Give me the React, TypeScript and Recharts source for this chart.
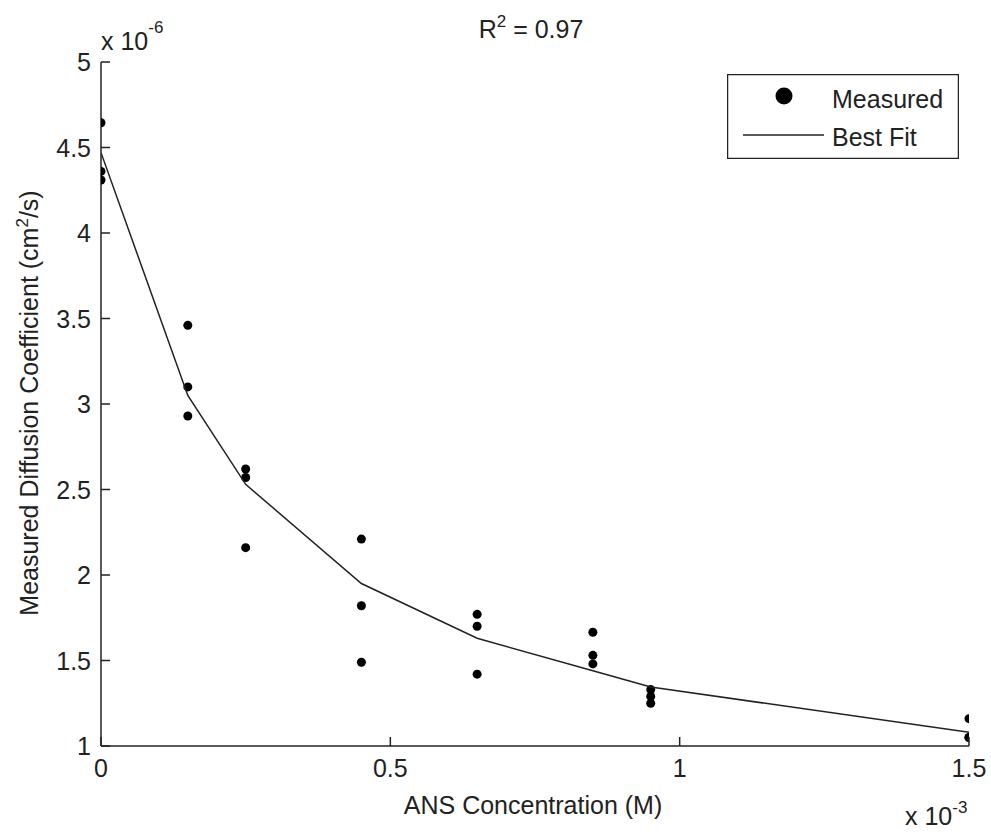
import React from "react"
import { ComposedChart, Scatter, XAxis, YAxis, Legend, Customized } from "recharts"

// ANS concentration (x 10^-3 M)
const concentrations = [0, 0.15, 0.25, 0.45, 0.65, 0.85, 0.95, 1.5]
// measured diffusion coefficient, three repeats (x 10^-6 cm^2/s)
const measuredA = [4.645, 3.46, 2.62, 2.21, 1.77, 1.665, 1.33, 1.16]
const measuredB = [4.36, 3.1, 2.57, 1.82, 1.7, 1.53, 1.29, 1.05]
const measuredC = [4.31, 2.93, 2.16, 1.49, 1.42, 1.48, 1.25, 1.05]
const bestFit = [4.47, 3.05, 2.53, 1.95, 1.63, 1.44, 1.345, 1.08]

const xTicks = [0, 0.5, 1, 1.5]
const yTicks = [1, 1.5, 2, 2.5, 3, 3.5, 4, 4.5, 5]

const FONT = "'Liberation Sans', Arial, sans-serif"
const INK = "#222"

const measured = [measuredA, measuredB, measuredC].flatMap((rep) =>
  rep.map((y, i) => ({ x: concentrations[i], y })),
)
const fit = bestFit.map((y, i) => ({ x: concentrations[i], y }))

const XTick = ({ x, y, payload }: any) => (
  <g>
    <line x1={x} y1={y} x2={x} y2={y - 9} stroke={INK} strokeWidth={1.5} />
    <text x={x} y={y + 31} textAnchor="middle" fontSize={25} fontFamily={FONT} fill={INK}>
      {payload.value}
    </text>
  </g>
)

const YTick = ({ x, y, payload }: any) => (
  <g>
    <line x1={x} y1={y} x2={x + 9} y2={y} stroke={INK} strokeWidth={1.5} />
    <text x={x - 10} y={y + 9} textAnchor="end" fontSize={25} fontFamily={FONT} fill={INK}>
      {payload.value}
    </text>
  </g>
)

const Dot = ({ cx, cy }: any) => <circle cx={cx} cy={cy} r={4.5} fill="#000" />

const LegendBox = () => (
  <svg width={232} height={85} style={{ display: "block" }}>
    <rect x={0.5} y={0.5} width={231} height={84} fill="#fff" stroke={INK} strokeWidth={1.5} />
    <circle cx={57} cy={22} r={8.5} fill="#000" />
    <text x={105} y={34} fontSize={25} fontFamily={FONT} fill={INK}>Measured</text>
    <line x1={16} y1={61} x2={97} y2={61} stroke={INK} strokeWidth={1.5} />
    <text x={105} y={72} fontSize={25} fontFamily={FONT} fill={INK}>Best Fit</text>
  </svg>
)

const Annotations = () => (
  <g fontFamily={FONT} fontSize={25} fill={INK}>
    <text x={531} y={38} textAnchor="middle">
      R<tspan fontSize={17} dy={-11}>2</tspan>
      <tspan dy={11}> = 0.97</tspan>
    </text>
    <text x={101} y={50}>
      x 10<tspan fontSize={17} dy={-17}>-6</tspan>
    </text>
    <text x={905} y={825}>
      x 10<tspan fontSize={17} dy={-12}>-3</tspan>
    </text>
    <text x={533} y={814} textAnchor="middle">ANS Concentration (M)</text>
    <text x={38} y={403} textAnchor="middle" transform="rotate(-90 38 403)">
      Measured Diffusion Coefficient (cm<tspan fontSize={17} dy={-10}>2</tspan>
      <tspan dy={10}>/s)</tspan>
    </text>
  </g>
)

export default function App() {
  return (
    <div style={{ position: "absolute", left: 0, top: 0, background: "#fff" }}>
      <ComposedChart width={991} height={832} margin={{ top: 62, right: 22, bottom: 56, left: 61 }}>
        <XAxis
          type="number"
          dataKey="x"
          domain={[0, 1.5]}
          ticks={xTicks}
          height={30}
          tickSize={0}
          tickMargin={0}
          tickLine={false}
          axisLine={{ stroke: INK, strokeWidth: 1.5 }}
          tick={<XTick />}
          allowDataOverflow
        />
        <YAxis
          type="number"
          dataKey="y"
          domain={[1, 5]}
          ticks={yTicks}
          width={40}
          tickSize={0}
          tickMargin={0}
          tickLine={false}
          axisLine={{ stroke: INK, strokeWidth: 1.5 }}
          tick={<YTick />}
          allowDataOverflow
        />
        <Scatter name="Measured" data={measured} shape={<Dot />} isAnimationActive={false} />
        <Scatter
          name="Best Fit"
          data={fit}
          line={{ stroke: INK, strokeWidth: 1.5 }}
          shape={() => <g />}
          isAnimationActive={false}
        />
        <Legend
          layout="horizontal"
          verticalAlign="middle"
          align="center"
          wrapperStyle={{ top: 74, left: 727, width: 232, height: 85 }}
          content={<LegendBox />}
        />
        <Customized component={<Annotations />} />
      </ComposedChart>
    </div>
  )
}
